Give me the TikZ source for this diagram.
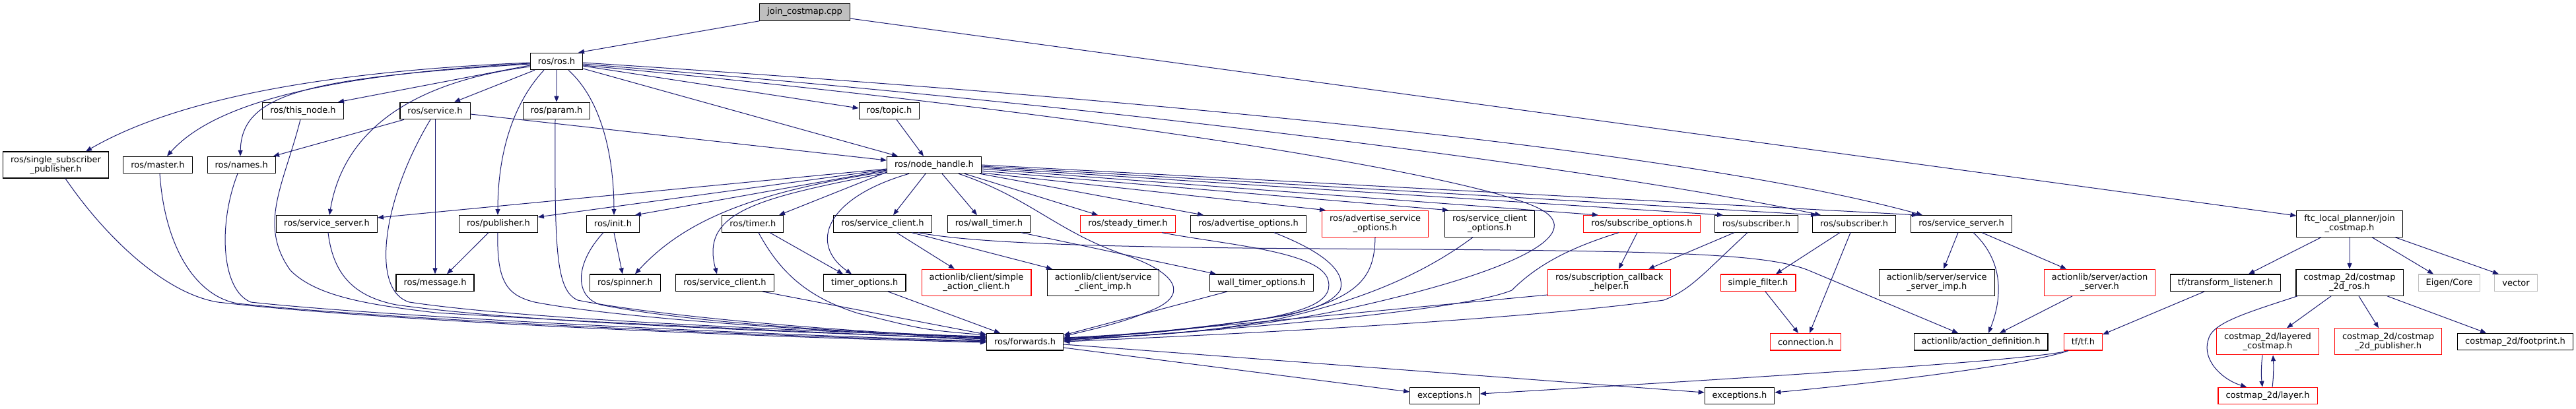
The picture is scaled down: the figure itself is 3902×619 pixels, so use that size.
\documentclass[tikz,border=0pt]{standalone}
\usepackage{fontspec}
\setmainfont{DejaVu Sans}
\usetikzlibrary{arrows.meta}
\definecolor{edgeblue}{HTML}{191970}
\definecolor{truncred}{HTML}{FF0000}
\definecolor{sysgray}{HTML}{BFBFBF}
\newcommand{\hdrfont}{\fontsize{13}{14.3}\selectfont}
\tikzset{
  hdr/.style={rectangle,draw=black,line width=1.1pt,fill=white,inner xsep=11.5pt,inner ysep=1pt,minimum height=25.5pt,font=\hdrfont,align=center},
  hdrtwo/.style={hdr,minimum height=40pt},
  trunc/.style={draw=truncred},
  sysinc/.style={draw=sysgray},
  dep/.style={draw=edgeblue,line width=1pt,-{Triangle[length=9pt,width=7pt]}}
}
\begin{document}
\begin{tikzpicture}[x=1pt,y=-1pt]
\useasboundingbox (0,0) rectangle (3902,619);
            \node (jc) at (1219,18.5) [hdr,fill=sysgray] {join\_costmap.cpp};
            \node (ros) at (843,93) [hdr] {ros/ros.h};
            \node (thisnode) at (459,168) [hdr] {ros/this\_node.h};
            \node (service) at (659,168) [hdr] {ros/service.h};
            \node (param) at (843,168) [hdr] {ros/param.h};
            \node (topic) at (1347,168) [hdr] {ros/topic.h};
            \node (ssp) at (84.5,250) [hdrtwo] {ros/single\_subscriber\\\_publisher.h};
            \node (master) at (239,250) [hdr] {ros/master.h};
            \node (names) at (365.7,250) [hdr] {ros/names.h};
            \node (nh) at (1415,250) [hdr] {ros/node\_handle.h};
            \node (ssrv) at (495,339.3) [hdr] {ros/service\_server.h};
            \node (pub) at (755,339.3) [hdr] {ros/publisher.h};
            \node (init) at (928.5,339.3) [hdr] {ros/init.h};
            \node (timer) at (1140.4,339.3) [hdr] {ros/timer.h};
            \node (sclient) at (1337,339.3) [hdr] {ros/service\_client.h};
            \node (wtimer) at (1498,339.3) [hdr] {ros/wall\_timer.h};
            \node (stimer) at (1708.5,339.3) [hdr,trunc] {ros/steady\_timer.h};
            \node (advopt) at (1891,339.3) [hdr] {ros/advertise\_options.h};
            \node (advsrvopt) at (2083,339.2) [hdrtwo,trunc] {ros/advertise\_service\\\_options.h};
            \node (scopt) at (2256.5,339.2) [hdrtwo] {ros/service\_client\\\_options.h};
            \node (subopt) at (2487,339.3) [hdr,trunc] {ros/subscribe\_options.h};
            \node (sub) at (2660.4,339.3) [hdr] {ros/subscriber.h};
            \node (mfsub) at (2808.6,339.3) [hdr] {ros/subscriber.h};
            \node (asrv) at (2971,339.3) [hdr] {ros/service\_server.h};
            \node (ftc) at (3559,339.2) [hdrtwo] {ftc\_local\_planner/join\\\_costmap.h};
            \node (msg) at (659,428.7) [hdr] {ros/message.h};
            \node (spin) at (947,428.7) [hdr] {ros/spinner.h};
            \node (sclientb) at (1098,428.7) [hdr] {ros/service\_client.h};
            \node (topt) at (1309.7,428.7) [hdr] {timer\_options.h};
            \node (sac) at (1479,428.3) [hdrtwo,trunc] {actionlib/client/simple\\\_action\_client.h};
            \node (scimp) at (1671,428.3) [hdrtwo] {actionlib/client/service\\\_client\_imp.h};
            \node (wtopt) at (1911,428.7) [hdr] {wall\_timer\_options.h};
            \node (sch) at (2437.7,428.3) [hdrtwo,trunc] {ros/subscription\_callback\\\_helper.h};
            \node (sfilter) at (2663,428.7) [hdr,trunc] {simple\_filter.h};
            \node (ssimp) at (2933.7,428.3) [hdrtwo] {actionlib/server/service\\\_server\_imp.h};
            \node (aserver) at (3180.5,428.3) [hdrtwo,trunc] {actionlib/server/action\\\_server.h};
            \node (tl) at (3371,428.7) [hdr] {tf/transform\_listener.h};
            \node (c2dros) at (3559,428.3) [hdrtwo] {costmap\_2d/costmap\\\_2d\_ros.h};
            \node (eigen) at (3710,428.7) [hdr,sysinc] {Eigen/Core};
            \node (vector) at (3811,428.7) [hdr,sysinc] {vector};
            \node (fwd) at (1552.6,518.2) [hdr] {ros/forwards.h};
            \node (conn) at (2735,518.2) [hdr,trunc] {connection.h};
            \node (adef) at (3000.5,518.2) [hdr] {actionlib/action\_definition.h};
            \node (tf) at (3155.4,518.2) [hdr,trunc] {tf/tf.h};
            \node (lcm) at (3435,517.8) [hdrtwo,trunc] {costmap\_2d/layered\\\_costmap.h};
            \node (c2dpub) at (3617.6,517.8) [hdrtwo,trunc] {costmap\_2d/costmap\\\_2d\_publisher.h};
            \node (fp) at (3810,518) [hdr] {costmap\_2d/footprint.h};
            \node (exc1) at (2188.5,600) [hdr] {exceptions.h};
            \node (exc2) at (2635,600) [hdr] {exceptions.h};
            \node (layer) at (3435,600) [hdr,trunc] {costmap\_2d/layer.h};

            \draw[dep] (jc.south west) -- (ros.north -| 876,0);
            \draw[dep] (jc.east |- 0,28) -- (ftc.west |- 0,327);

            \draw[dep] (ros.west |- 0,95) .. controls (450,110) and (250,160) .. (ssp.north -| 130,0);
            \draw[dep] (ros.west |- 0,96) .. controls (520,112) and (330,150) .. (master.north -| 253,0);
            \draw[dep] (ros.west |- 0,97) .. controls (470,118) and (366,140) .. (names.north -| 364,0);
            \draw[dep] (ros.west |- 0,99) -- (thisnode.north -| 512,0);
            \draw[dep] (ros.west |- 0,101) .. controls (620,125) and (520,200) .. (ssrv.north -| 499,0);
            \draw[dep] (ros.south -| 810,0) -- (service.north -| 688,0);
            \draw[dep] (ros.south -| 824,0) .. controls (765,170) and (754,260) .. (pub.north -| 754,0);
            \draw[dep] (ros) -- (param);
            \draw[dep] (ros.south -| 861,0) .. controls (920,160) and (930,260) .. (init.north -| 930,0);
            \draw[dep] (ros.east |- 0,100) -- (topic.west |- 0,164);
            \draw[dep] (ros.east |- 0,104) -- (nh.north -| 1360,0);
            \draw[dep] (ros.east |- 0,95) .. controls (1900,160) and (2600,240) .. (asrv.north -| 2912,0);
            \draw[dep] (ros.east |- 0,97) .. controls (1800,170) and (2500,270) .. (mfsub.north -| 2758,0);
            \draw[dep] (ros.east |- 0,99) .. controls (1700,175) and (2250,270) .. (2335,318) .. controls (2400,355) and (2300,410) .. (2050,466) .. controls (1900,500) and (1700,512) .. (fwd.east |- 0,513);

            \draw[dep] (service.south -| 612,0) -- (names.north -| 414,0);
            \draw[dep] (service) -- (msg);
            \draw[dep] (service.east |- 0,173) -- (nh.west |- 0,243);
            \draw[dep] (topic.south -| 1358,0) -- (nh.north -| 1399,0);

            \draw[dep] (ssp.south -| 99,0) .. controls (160,360) and (250,445) .. (330,458) .. controls (560,485) and (1100,510) .. (fwd.west |- 0,519);
            \draw[dep] (master.south -| 242,0) .. controls (250,380) and (300,450) .. (360,460) .. controls (560,482) and (1100,508) .. (fwd.west |- 0,518);
            \draw[dep] (names.south -| 360,0) .. controls (330,340) and (335,440) .. (380,458) .. controls (560,478) and (1100,506) .. (fwd.west |- 0,517);
            \draw[dep] (thisnode.south -| 455,0) .. controls (430,280) and (390,340) .. (440,410) .. controls (480,450) and (560,462) .. (660,474) .. controls (1000,495) and (1300,505) .. (fwd.west |- 0,516);
            \draw[dep] (ssrv.south -| 497,0) .. controls (505,420) and (540,450) .. (600,462) .. controls (800,490) and (1200,503) .. (fwd.west |- 0,514);
            \draw[dep] (service.south -| 652,0) .. controls (580,300) and (560,440) .. (620,458) .. controls (800,485) and (1200,500) .. (fwd.west |- 0,512);
            \draw[dep] (pub.south -| 754,0) .. controls (752,430) and (770,448) .. (810,458) .. controls (950,485) and (1300,505) .. (fwd.west |- 0,513);
            \draw[dep] (param.south -| 841,0) .. controls (840,380) and (842,440) .. (875,455) .. controls (1000,480) and (1300,505) .. (fwd.west |- 0,511);
            \draw[dep] (init.south -| 914,0) .. controls (870,400) and (870,450) .. (910,462) .. controls (1050,490) and (1300,505) .. (fwd.west |- 0,510);
            \draw[dep] (timer.south -| 1149,0) .. controls (1180,410) and (1220,450) .. (1300,475) .. controls (1400,500) .. (fwd.west |- 0,508);
            \draw[dep] (sclientb.south -| 1155,0) -- (fwd.west |- 0,507);
            \draw[dep] (pub.south -| 740,0) -- (msg.north -| 677,0);
            \draw[dep] (init.south -| 930,0) -- (spin.north -| 943,0);
            \draw[dep] (timer.south -| 1166,0) -- (topt.north -| 1277,0);

            \draw[dep] (nh.west |- 0,256) -- (ssrv.east |- 0,330);
            \draw[dep] (nh.west |- 0,257) -- (pub.east |- 0,329);
            \draw[dep] (nh.west |- 0,258) -- (init.north -| 962,0);
            \draw[dep] (nh.west |- 0,260) .. controls (1150,290) and (1040,330) .. (spin.north -| 962,0);
            \draw[dep] (nh.west |- 0,262) .. controls (1150,300) and (1060,320) .. (sclientb.north -| 1086,0);
            \draw[dep] (nh.west |- 0,261) -- (timer.north -| 1180,0);
            \draw[dep] (nh.south -| 1377,0) .. controls (1250,300) and (1225,370) .. (topt.north -| 1290,0);
            \draw[dep] (nh.south -| 1402,0) -- (sclient.north -| 1353,0);
            \draw[dep] (nh.south -| 1427,0) -- (wtimer.north -| 1480,0);
            \draw[dep] (nh.south -| 1452,0) .. controls (1560,300) and (1600,350) .. (1700,385) .. controls (1790,415) and (1800,450) .. (1740,472) .. controls (1700,490) and (1650,500) .. (fwd.east |- 0,510);
            \draw[dep] (nh.south -| 1461,0) -- (stimer.north -| 1663,0);
            \draw[dep] (nh.south -| 1484,0) -- (advopt.north -| 1823,0);
            \draw[dep] (nh.east |- 0,262) -- (advsrvopt.north -| 2008,0);
            \draw[dep] (nh.east |- 0,259) -- (scopt.north -| 2194,0);
            \draw[dep] (nh.east |- 0,256) -- (subopt.north -| 2421,0);
            \draw[dep] (nh.east |- 0,254) -- (sub.north -| 2610,0);
            \draw[dep] (nh.east |- 0,252) -- (mfsub.north -| 2752,0);
            \draw[dep] (nh.east |- 0,250) -- (asrv.north -| 2905,0);

            \draw[dep] (sclient.south -| 1358,0) -- (sac.north -| 1446,0);
            \draw[dep] (sclient.south -| 1381,0) -- (scimp.north -| 1594,0);
            \draw[dep] (sclient.south -| 1391,0) .. controls (1480,370) and (1700,375) .. (2000,377) .. controls (2500,380) and (2672,382) .. (2740,410) -- (adef.north -| 2966,0);
            \draw[dep] (wtimer.south -| 1547,0) -- (wtopt.north -| 1842,0);
            \draw[dep] (topt.south -| 1345,0) -- (fwd.north -| 1515,0);
            \draw[dep] (wtopt.south -| 1859,0) -- (fwd.east |- 0,508);

            \draw[dep] (stimer.south -| 1760,0) .. controls (1850,370) and (1990,380) .. (2010,420) .. controls (2025,455) and (1980,470) .. (1920,482) .. controls (1800,500) and (1700,508) .. (fwd.east |- 0,512);
            \draw[dep] (advopt.south -| 1930,0) .. controls (2000,380) and (2040,410) .. (2030,440) .. controls (2010,470) and (1950,478) .. (1880,488) .. controls (1750,505) .. (fwd.east |- 0,513);
            \draw[dep] (advsrvopt.south -| 2083,0) .. controls (2082,420) and (2060,450) .. (1950,478) .. controls (1800,500) .. (fwd.east |- 0,514);
            \draw[dep] (scopt.south -| 2231,0) .. controls (2150,420) and (2050,460) .. (1920,487) .. controls (1800,505) .. (fwd.east |- 0,515);
            \draw[dep] (sch.west |- 0,447) -- (fwd.east |- 0,516);
            \draw[dep] (subopt.south -| 2452,0) .. controls (2380,375) and (2330,400) .. (2290,440) .. controls (2230,465) and (2000,490) .. (fwd.east |- 0,517);
            \draw[dep] (sub.south -| 2647,0) .. controls (2580,415) and (2560,440) .. (2520,455) .. controls (2300,485) and (1900,505) .. (fwd.east |- 0,518);
            \draw[dep] (subopt.south -| 2480,0) -- (sch.north -| 2452,0);
            \draw[dep] (sub.south -| 2627,0) -- (sch.north -| 2497,0);

            \draw[dep] (fwd.east |- 0,527) -- (exc1.west |- 0,594);
            \draw[dep] (fwd.east |- 0,522) -- (exc2.west |- 0,595);

            \draw[dep] (mfsub.south -| 2787,0) -- (sfilter.north -| 2690,0);
            \draw[dep] (mfsub.south -| 2803,0) -- (conn.north -| 2741,0);
            \draw[dep] (sfilter.south -| 2674,0) -- (conn.north -| 2724,0);

            \draw[dep] (asrv.south -| 2966,0) -- (ssimp.north -| 2944,0);
            \draw[dep] (asrv.south -| 2989,0) .. controls (3040,400) and (3030,460) .. (adef.north -| 3012,0);
            \draw[dep] (asrv.south -| 3002,0) -- (aserver.north -| 3130,0);
            \draw[dep] (aserver.south -| 3139,0) -- (adef.north -| 3029,0);

            \draw[dep] (tf.south -| 3133,0) .. controls (3090,545) and (2700,570) .. (exc1.east |- 0,597);
            \draw[dep] (tf.south -| 3133,0) .. controls (3090,548) and (2900,575) .. (exc2.east |- 0,595);
            \draw[dep] (tl.south -| 3339,0) -- (tf.east |- 0,507);

            \draw[dep] (ftc.south -| 3516,0) -- (tl.north -| 3406,0);
            \draw[dep] (ftc) -- (c2dros);
            \draw[dep] (ftc.south -| 3593,0) -- (eigen.north -| 3686,0);
            \draw[dep] (ftc.south -| 3628,0) -- (vector.north -| 3785,0);
            \draw[dep] (c2dros.south -| 3531,0) -- (lcm.north -| 3464,0);
            \draw[dep] (c2dros.south -| 3573,0) -- (c2dpub.north -| 3603,0);
            \draw[dep] (c2dros.south -| 3616,0) -- (fp.north -| 3766,0);
            \draw[dep] (c2dros.south -| 3480,0) .. controls (3400,475) and (3350,490) .. (3345,515) .. controls (3335,545) and (3365,575) .. (layer.north -| 3403,0);
            \draw[dep] (lcm.south -| 3427,0) .. controls (3425,555) and (3425,570) .. (layer.north -| 3427,0);
            \draw[dep] (layer.north -| 3442,0) .. controls (3444,570) and (3444,555) .. (lcm.south -| 3443,0);
\end{tikzpicture}
\end{document}
